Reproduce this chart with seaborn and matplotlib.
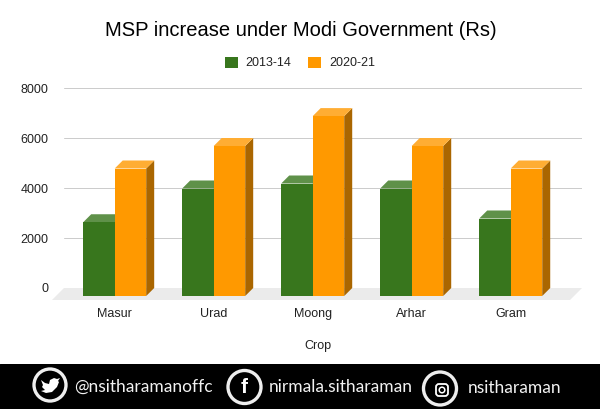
#!/usr/bin/env python3
"""MSP increase bar chart, faux 3D look, with the social footer strip."""

import matplotlib

matplotlib.use("Agg")
import matplotlib.pyplot as plt
import pandas as pd
import seaborn as sns
from matplotlib.patches import Circle, FancyBboxPatch, Polygon, Rectangle
from matplotlib.transforms import IdentityTransform, offset_copy

crops = ["Masur", "Urad", "Moong", "Arhar", "Gram"]
years = ["2013-14", "2020-21"]
msp_2013 = [2950, 4300, 4500, 4300, 3100]
msp_2020 = [5100, 6000, 7196, 6000, 5100]
y_ticks = [0, 2000, 4000, 6000, 8000]
handles_text = ["@nsitharamanoffc", "nirmala.sitharaman", "nsitharaman"]

W, H = 600, 409
DEPTH = 8  # px
COLORS = {"2013-14": "#38761d", "2020-21": "#ff9900"}
TOPS = {"2013-14": "#5f9149", "2020-21": "#ffad33"}
SIDES = {"2013-14": "#27531a", "2020-21": "#aa6600"}

sns.set_theme(style="white")
plt.rcParams["font.family"] = ["Liberation Sans", "DejaVu Sans"]

df = pd.DataFrame(
    {
        "crop": crops * 2,
        "year": [years[0]] * len(crops) + [years[1]] * len(crops),
        "msp": msp_2013 + msp_2020,
    }
)

fig = plt.figure(figsize=(W / 100, H / 100), dpi=100, facecolor="white")
ax = fig.add_axes([64 / W, (H - 288) / H, (582 - 64) / W, 200 / H])

sns.barplot(
    data=df,
    x="crop",
    y="msp",
    hue="year",
    palette=COLORS,
    width=63 / 99,
    gap=0,
    saturation=1,
    errorbar=None,
    edgecolor="none",
    linewidth=0,
    ax=ax,
    zorder=3,
)

ax.set_xlim(-0.512, 4.72)
ax.set_ylim(0, 8000)
ax.set_yticks(y_ticks)
ax.set_yticklabels([str(t) for t in y_ticks])
ax.tick_params(axis="y", length=0, pad=11, labelsize=9, labelcolor="#222222")
ax.tick_params(axis="x", length=0, pad=14.2, labelsize=9, labelcolor="#222222")
ax.set_xlabel("Crop", fontsize=9, color="#222222")
ax.xaxis.set_label_coords((318 - 64) / 518, -(340 - 288) / 200, transform=ax.transAxes)
ax.set_ylabel("")
ax.grid(axis="y", color="#cccccc", lw=0.72)
ax.set_axisbelow(True)
sns.despine(ax=ax, left=True, bottom=True, top=True, right=True)

# floor and baseline, worked out from the axes box
(x0, y0), (x1, _) = ax.transData.transform([(ax.get_xlim()[0], 0), (ax.get_xlim()[1], 0)])
ax.add_patch(
    Polygon(
        [(x0, y0), (x1, y0), (x1 - 12, y0 - 12), (x0 - 12, y0 - 12)],
        closed=True,
        transform=IdentityTransform(),
        facecolor="#ebebeb",
        edgecolor="none",
        clip_on=False,
        zorder=1.5,
    )
)
ax.axhline(0, color="#333333", lw=0.72, zorder=1.8)

# front faces sit below the back wall, the top and side faces fill the gap
front = offset_copy(ax.transData, fig=fig, x=0, y=-DEPTH * 72 / 100, units="points")
for i, year in enumerate(years):
    bars = ax.containers[i]
    for bar in bars:
        bar.set_transform(front)
        bar.set_clip_on(False)
        bar.set_zorder(3 + i + 0.5)
        (l, b), (r, t) = front.transform(
            [(bar.get_x(), 0), (bar.get_x() + bar.get_width(), bar.get_height())]
        )
        side = [(r, b), (r + DEPTH, b + DEPTH), (r + DEPTH, t + DEPTH), (r, t)]
        top = [(l, t), (r, t), (r + DEPTH, t + DEPTH), (l + DEPTH, t + DEPTH)]
        for pts, col in ((side, SIDES[year]), (top, TOPS[year])):
            ax.add_patch(
                Polygon(
                    pts,
                    closed=True,
                    transform=IdentityTransform(),
                    facecolor=col,
                    edgecolor="none",
                    clip_on=False,
                    zorder=3 + i,
                )
            )

sns.move_legend(
    ax,
    "center",
    bbox_to_anchor=(300 / W, (H - 63) / H),
    bbox_transform=fig.transFigure,
    ncol=2,
    title=None,
    frameon=False,
    fontsize=9,
    handlelength=1.0,
    handleheight=1.0,
    handletextpad=0.65,
    columnspacing=1.35,
    labelcolor="#222222",
)

fig.text(300.5 / W, (H - 31) / H, "MSP increase under Modi Government (Rs)",
         ha="center", va="center", fontsize=14.5, color="#000000")

# footer strip, drawn in pixel coordinates
foot = fig.add_axes([0, 0, 1, 45 / H], zorder=5)
foot.set_xlim(0, W)
foot.set_ylim(H, H - 45)
foot.axis("off")
foot.add_patch(Rectangle((0, H - 45), W, 45, color="black"))

ring = dict(facecolor="black", edgecolor="#eeeeee", lw=2.4)
foot.add_patch(Circle((50, 385), 16, **ring))
foot.add_patch(Circle((244.5, 387), 16.5, **ring))
foot.add_patch(Circle((440, 388.5), 16.5, **ring))

# twitter bird, rough outline
bird = [(41, 380), (45, 383), (49, 384), (50, 380), (54, 378), (57, 379), (60, 378),
        (58, 381), (59, 382), (57, 387), (52, 392), (46, 393), (41, 391), (45, 390),
        (42, 387), (43, 385)]
foot.add_patch(Polygon(bird, closed=True, facecolor="white", edgecolor="none"))
foot.text(244, 387.5, "f", color="white", fontsize=15, fontweight="bold",
          ha="center", va="center", family="Liberation Sans")
foot.add_patch(
    FancyBboxPatch((436, 384), 12, 12, boxstyle="round,pad=0,rounding_size=3",
                   facecolor="none", edgecolor="white", lw=1.3)
)
foot.add_patch(Circle((442, 390), 2.8, facecolor="none", edgecolor="white", lw=1.1))

for x, y, s in zip([74, 269, 468], [387, 387, 388], handles_text):
    foot.text(x, y, s, color="#f2f2f2", fontsize=12.5, ha="left", va="center",
              family=["Lato", "DejaVu Sans"])

fig.savefig("out.png", dpi=100)
